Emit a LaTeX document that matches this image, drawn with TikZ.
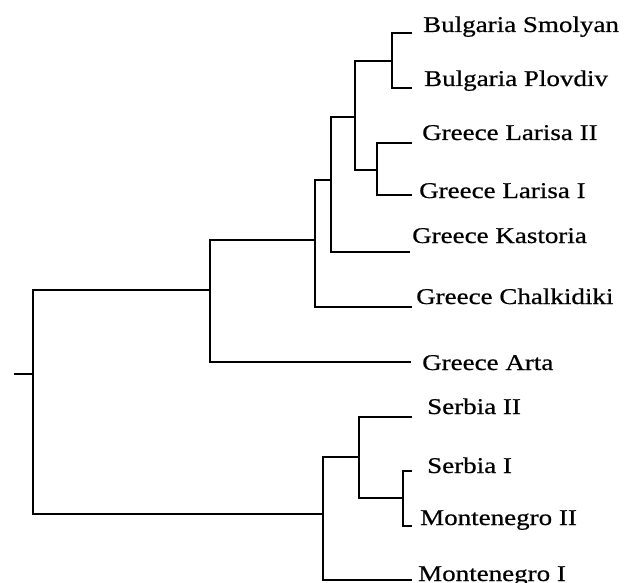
\documentclass[tikz,border=0pt]{standalone}
\usepackage{fontspec}
\newfontfamily\labfont[FakeStretch=1.2,FakeBold=0.6]{Liberation Serif}
\begin{document}
\begin{tikzpicture}[x=1pt,y=-1pt,
  branch/.style={line width=2.3pt, line join=miter},
  leaflabel/.style={anchor=base west, inner sep=0pt, font=\labfont\fontsize{22.5}{27}\selectfont}]
\useasboundingbox (0,0) rectangle (624,583);
% leaf ends
\coordinate (l1) at (412,33);
\coordinate (l2) at (412,88);
\coordinate (l3) at (412,143);
\coordinate (l4) at (412,195);
\coordinate (l5) at (410,252);
\coordinate (l6) at (412,307);
\coordinate (l7) at (411,362);
\coordinate (l8) at (412,417);
\coordinate (l9) at (412,471);
\coordinate (l10) at (412,526);
\coordinate (l11) at (412,580);
% internal nodes
\coordinate (nA) at (392,61);
\coordinate (nB) at (377,170);
\coordinate (nC) at (355,117);
\coordinate (nD) at (331,180);
\coordinate (nE) at (315,240);
\coordinate (nF) at (210,290);
\coordinate (nG) at (403,498);
\coordinate (nH) at (359,457);
\coordinate (nI) at (323,514);
\coordinate (root) at (33,374);
\coordinate (stub) at (14,374);
% labels
\node[leaflabel] (t1) at (423,32) {Bulgaria Smolyan};
\node[leaflabel] (t2) at (424,86) {Bulgaria Plovdiv};
\node[leaflabel] (t3) at (422,140) {Greece Larisa II};
\node[leaflabel] (t4) at (419,198) {Greece Larisa I};
\node[leaflabel] (t5) at (412,243) {Greece Kastoria};
\node[leaflabel] (t6) at (416,304) {Greece Chalkidiki};
\node[leaflabel] (t7) at (422,370) {Greece Arta};
\node[leaflabel] (t8) at (427,414) {Serbia II};
\node[leaflabel] (t9) at (427,473) {Serbia I};
\node[leaflabel] (t10) at (420,525) {Montenegro II};
\node[leaflabel] (t11) at (418,581) {Montenegro I};
% branches
\draw[branch] (nA) |- (l1);
\draw[branch] (nA) |- (l2);
\draw[branch] (nB) |- (l3);
\draw[branch] (nB) |- (l4);
\draw[branch] (nC) |- (nA);
\draw[branch] (nC) |- (nB);
\draw[branch] (nD) |- (nC);
\draw[branch] (nD) |- (l5);
\draw[branch] (nE) |- (nD);
\draw[branch] (nE) |- (l6);
\draw[branch] (nF) |- (nE);
\draw[branch] (nF) |- (l7);
\draw[branch] (nG) |- (l9);
\draw[branch] (nG) |- (l10);
\draw[branch] (nH) |- (l8);
\draw[branch] (nH) |- (nG);
\draw[branch] (nI) |- (nH);
\draw[branch] (nI) |- (l11);
\draw[branch] (root) |- (nF);
\draw[branch] (root) |- (nI);
\draw[branch] (stub) -- (root);
\end{tikzpicture}
\end{document}
